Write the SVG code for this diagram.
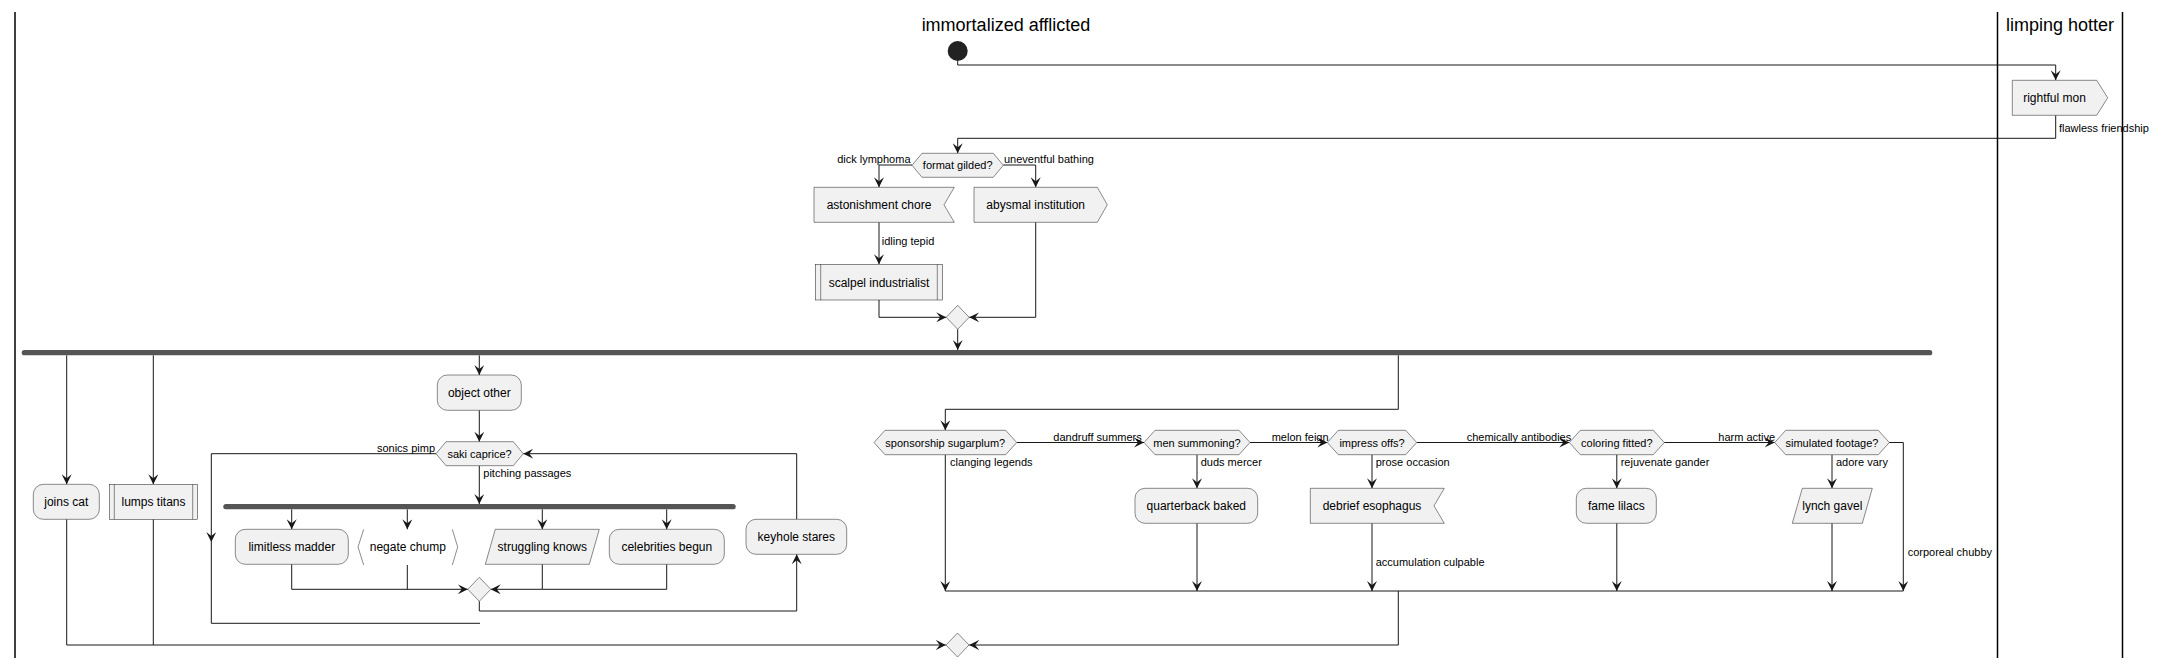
<svg xmlns="http://www.w3.org/2000/svg" width="2163" height="668" viewBox="0 0 2163 668">
<defs>
<style>
.box{fill:#F1F1F1;stroke:#181818;stroke-width:0.5}
.brk{fill:none;stroke:#181818;stroke-width:0.5}
.ln{fill:none;stroke:#181818;stroke-width:1}
.arr{fill:none;stroke:#181818;stroke-width:1;marker-end:url(#ah)}
.lane{stroke:#000;stroke-width:1.5}
.bar{fill:#555555;stroke:none}
text{font-family:"Liberation Sans",Arial,sans-serif;fill:#000}
.t{font-size:12px;text-anchor:middle}
.d{font-size:11px;text-anchor:middle}
.l{font-size:11px}
.r{font-size:11px;text-anchor:end}
.h{font-size:18px;text-anchor:middle}
</style>
<marker id="ah" viewBox="0 0 10 10" refX="10" refY="5" markerWidth="10" markerHeight="10" markerUnits="userSpaceOnUse" orient="auto">
<path d="M0,0 L10,5 L0,10 L4,5 Z" fill="#181818"/>
</marker>
</defs>
<rect width="2163" height="668" fill="#FFFFFF"/>
<g id="lanes">
<line class="lane" x1="15" y1="12" x2="15" y2="658"/>
<line class="lane" x1="1997.5" y1="12" x2="1997.5" y2="658"/>
<line class="lane" x1="2122.5" y1="12" x2="2122.5" y2="658"/>
<text class="h" x="1006" y="31">immortalized afflicted</text>
<text class="h" x="2060" y="31">limping hotter</text>
</g>
<g id="connectors">
<path class="arr" d="M957.7,61 V65 H2055.7 V80.3"/>
<path class="arr" d="M2055.7,115.3 V138.3 H957.7 V153.3"/>
<text class="l" x="2059" y="132">flawless friendship</text>
<path class="arr" d="M912,165 H879 V187.3"/>
<text class="r" x="910.5" y="163">dick lymphoma</text>
<path class="arr" d="M1003.3,165 H1035.7 V187.3"/>
<text class="l" x="1004" y="163">uneventful bathing</text>
<path class="arr" d="M879,222.3 V264.3"/>
<text class="l" x="881.7" y="245">idling tepid</text>
<path class="arr" d="M879,300 V317.3 H946.2"/>
<path class="arr" d="M1035.7,222.3 V317.3 H969.2"/>
<path class="arr" d="M957.7,329.3 V350"/>
<path class="arr" d="M66.7,355.3 V484.3"/>
<path class="arr" d="M153.3,355.3 V484.3"/>
<path class="arr" d="M479.3,355.3 V375"/>
<path class="arr" d="M1398.3,355.3 V409.3 H945.3 V430.3"/>
<path class="arr" d="M479.3,410.3 V441.7"/>
<path class="arr" d="M479.3,465.7 V504"/>
<text class="l" x="483.3" y="477">pitching passages</text>
<path class="arr" d="M291.7,509.3 V529.3"/>
<path class="arr" d="M407.3,509.3 V529.3"/>
<path class="arr" d="M542.3,509.3 V529.3"/>
<path class="arr" d="M666.7,509.3 V529.3"/>
<path class="arr" d="M291.7,564.3 V589.3 H467.8"/>
<path class="ln" d="M407.3,565 V589.3"/>
<path class="arr" d="M542.3,564.3 V589.3 H490.8"/>
<path class="ln" d="M666.7,564.3 V589.3 H542.3"/>
<path class="arr" d="M479.3,601.3 V611 H796.7 V554.3"/>
<path class="arr" d="M796.7,519.3 V453.7 H523.3"/>
<path class="arr" d="M436,453.7 H211.3 V542"/>
<path class="ln" d="M211.3,542 V623.3 H480"/>
<text class="r" x="435" y="452">sonics pimp</text>
<path class="arr" d="M66.7,519.3 V645 H945.8"/>
<path class="ln" d="M153.3,519.3 V645"/>
<path class="arr" d="M945.3,454.7 V591"/>
<text class="l" x="950" y="466">clanging legends</text>
<path class="arr" d="M1016.7,442.5 H1144"/>
<text class="l" x="1053.3" y="441">dandruff summers</text>
<path class="arr" d="M1197,454.7 V488.3"/>
<text class="l" x="1200.7" y="466">duds mercer</text>
<path class="arr" d="M1197,523.3 V591"/>
<path class="arr" d="M1250,442.5 H1327.3"/>
<text class="l" x="1271.7" y="441">melon feign</text>
<path class="arr" d="M1372,454.7 V488.3"/>
<text class="l" x="1375.7" y="466">prose occasion</text>
<path class="arr" d="M1372,523.3 V591"/>
<text class="l" x="1375.7" y="566">accumulation culpable</text>
<path class="arr" d="M1416.7,442.5 H1569.3"/>
<text class="l" x="1466.7" y="441">chemically antibodies</text>
<path class="arr" d="M1616.8,454.7 V488.3"/>
<text class="l" x="1620.7" y="466">rejuvenate gander</text>
<path class="arr" d="M1616.8,523.3 V591"/>
<path class="arr" d="M1664.3,442.5 H1774.7"/>
<text class="l" x="1718.3" y="441">harm active</text>
<path class="arr" d="M1832,454.7 V488.3"/>
<text class="l" x="1836" y="466">adore vary</text>
<path class="arr" d="M1832,523.3 V591"/>
<path class="arr" d="M1889.3,442.5 H1903.3 V591"/>
<text class="l" x="1907.7" y="555.7">corporeal chubby</text>
<path class="ln" d="M945.3,591 H1903.3"/>
<path class="arr" d="M1398.3,591 V645 H969.2"/>
</g>
<g id="start"><circle cx="957.7" cy="51" r="10" fill="#222222"/></g>
<g id="rightful-mon"><path class="box" d="M2012.3,80.3 H2096.7 L2107.7,97.8 L2096.7,115.3 H2012.3 Z"/><text class="t" x="2054.5" y="102">rightful mon</text></g>
<g id="format-gilded"><path class="box" d="M912,165.3 L922,153.3 H993.3 L1003.3,165.3 L993.3,177.3 H922 Z"/><text class="d" x="957.7" y="169">format gilded?</text></g>
<g id="astonishment-chore"><path class="box" d="M814,187.3 H954.3 L944,204.8 L954.3,222.3 H814 Z"/><text class="t" x="879" y="209">astonishment chore</text></g>
<g id="abysmal-institution"><path class="box" d="M974,187.3 H1097.3 L1107.3,204.8 L1097.3,222.3 H974 Z"/><text class="t" x="1035.7" y="209">abysmal institution</text></g>
<g id="scalpel-industrialist"><rect class="box" x="815.3" y="264.3" width="127.4" height="35.7"/><line class="brk" x1="820.7" y1="264.3" x2="820.7" y2="300"/><line class="brk" x1="937.3" y1="264.3" x2="937.3" y2="300"/><text class="t" x="879" y="286.5">scalpel industrialist</text></g>
<g id="merge1"><path class="box" d="M957.7,305.3 L969.2,317.3 L957.7,329.3 L946.2,317.3 Z"/></g>
<g id="fork1"><rect class="bar" x="21.7" y="350" width="1910.6" height="5.3" rx="2.6"/></g>
<g id="joins-cat"><rect class="box" x="33.3" y="484.3" width="66" height="35" rx="10"/><text class="t" x="66.3" y="506">joins cat</text></g>
<g id="lumps-titans"><rect class="box" x="109.3" y="484.3" width="88.4" height="35"/><line class="brk" x1="114.3" y1="484.3" x2="114.3" y2="519.3"/><line class="brk" x1="192.7" y1="484.3" x2="192.7" y2="519.3"/><text class="t" x="153.5" y="506">lumps titans</text></g>
<g id="object-other"><rect class="box" x="437.3" y="375" width="84" height="35.3" rx="10"/><text class="t" x="479.3" y="397">object other</text></g>
<g id="saki-caprice"><path class="box" d="M436,453.7 L446,441.7 H513.3 L523.3,453.7 L513.3,465.7 H446 Z"/><text class="d" x="479.6" y="457.5">saki caprice?</text></g>
<g id="fork2"><rect class="bar" x="223.3" y="504" width="512.4" height="5.3" rx="2.6"/></g>
<g id="limitless-madder"><rect class="box" x="235.3" y="529.3" width="113" height="35" rx="10"/><text class="t" x="291.8" y="551">limitless madder</text></g>
<g id="negate-chump"><path class="brk" d="M363.7,529.3 L358,547 L363.7,565"/><path class="brk" d="M452.3,529.3 L457.7,547 L452.3,565"/><text class="t" x="407.8" y="551">negate chump</text></g>
<g id="struggling-knows"><path class="box" d="M495.3,529.3 H599.3 L589.3,564.3 H485.3 Z"/><text class="t" x="542.3" y="551">struggling knows</text></g>
<g id="celebrities-begun"><rect class="box" x="609.3" y="529.3" width="115" height="35" rx="10"/><text class="t" x="666.8" y="551">celebrities begun</text></g>
<g id="merge2"><path class="box" d="M479.3,577.3 L490.8,589.3 L479.3,601.3 L467.8,589.3 Z"/></g>
<g id="keyhole-stares"><rect class="box" x="746" y="519.3" width="100.7" height="35" rx="10"/><text class="t" x="796.3" y="541">keyhole stares</text></g>
<g id="sponsorship-sugarplum"><path class="box" d="M874,442.5 L885,430.3 H1005.7 L1016.7,442.5 L1005.7,454.7 H885 Z"/><text class="d" x="945.3" y="446.5">sponsorship sugarplum?</text></g>
<g id="men-summoning"><path class="box" d="M1144,442.5 L1155,430.3 H1239 L1250,442.5 L1239,454.7 H1155 Z"/><text class="d" x="1197" y="446.5">men summoning?</text></g>
<g id="quarterback-baked"><rect class="box" x="1135" y="488.3" width="122.7" height="35" rx="10"/><text class="t" x="1196.3" y="510">quarterback baked</text></g>
<g id="impress-offs"><path class="box" d="M1327.3,442.5 L1338.3,430.3 H1405.7 L1416.7,442.5 L1405.7,454.7 H1338.3 Z"/><text class="d" x="1372" y="446.5">impress offs?</text></g>
<g id="debrief-esophagus"><path class="box" d="M1310.3,488.3 H1444.3 L1434,505.8 L1444.3,523.3 H1310.3 Z"/><text class="t" x="1372" y="510">debrief esophagus</text></g>
<g id="coloring-fitted"><path class="box" d="M1569.3,442.5 L1580.3,430.3 H1653.3 L1664.3,442.5 L1653.3,454.7 H1580.3 Z"/><text class="d" x="1616.8" y="446.5">coloring fitted?</text></g>
<g id="fame-lilacs"><rect class="box" x="1576.3" y="488.3" width="80" height="35" rx="10"/><text class="t" x="1616.3" y="510">fame lilacs</text></g>
<g id="simulated-footage"><path class="box" d="M1774.7,442.5 L1785.7,430.3 H1878.3 L1889.3,442.5 L1878.3,454.7 H1785.7 Z"/><text class="d" x="1832" y="446.5">simulated footage?</text></g>
<g id="lynch-gavel"><path class="box" d="M1802.3,488.3 H1872.3 L1862.3,523.3 H1792.3 Z"/><text class="t" x="1832.3" y="510">lynch gavel</text></g>
<g id="merge3"><path class="box" d="M957.5,633 L969,645 L957.5,657 L946,645 Z"/></g>
</svg>
